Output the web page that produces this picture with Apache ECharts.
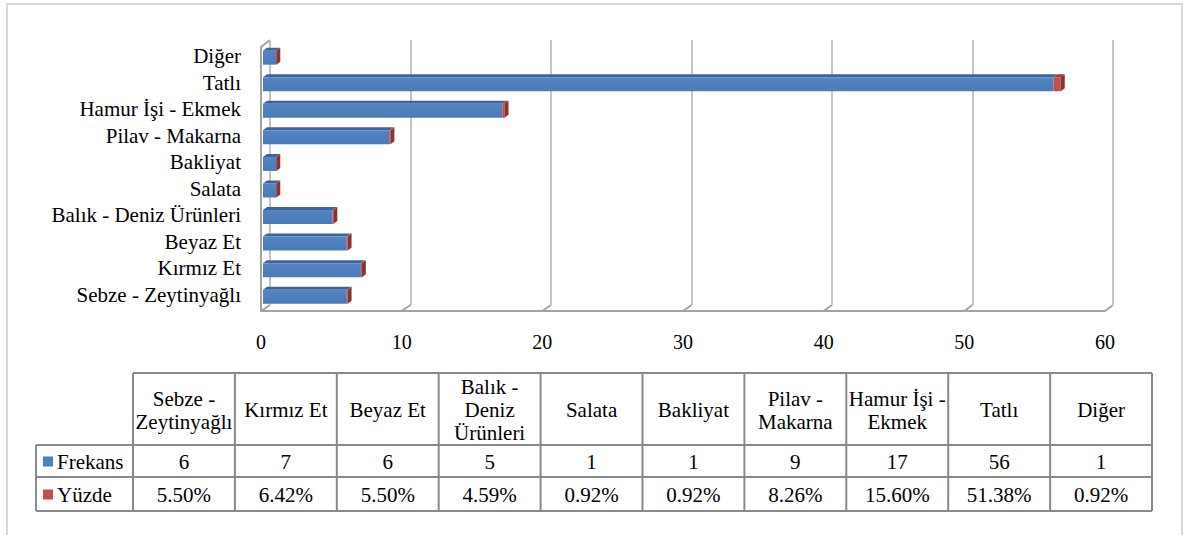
<!DOCTYPE html>
<html>
<head>
<meta charset="utf-8">
<script src="https://cdn.jsdelivr.net/npm/echarts@6.0.0/dist/echarts.min.js"></script>
<style>
  html, body { margin: 0; padding: 0; background: #fff; }
  #main { width: 1187px; height: 535px; }
</style>
</head>
<body>
<div id="main"></div>
<script>
var categories = ['Sebze - Zeytinyağlı', 'Kırmız Et', 'Beyaz Et', 'Balık - Deniz Ürünleri', 'Salata',
    'Bakliyat', 'Pilav - Makarna', 'Hamur İşi - Ekmek', 'Tatlı', 'Diğer'];
var headerLabels = ['Sebze -\nZeytinyağlı', 'Kırmız Et', 'Beyaz Et', 'Balık -\nDeniz\nÜrünleri', 'Salata',
    'Bakliyat', 'Pilav -\nMakarna', 'Hamur İşi -\nEkmek', 'Tatlı', 'Diğer'];
var frekans = [6, 7, 6, 5, 1, 1, 9, 17, 56, 1];
var yuzde = [0.055, 0.0642, 0.055, 0.0459, 0.0092, 0.0092, 0.0826, 0.156, 0.5138, 0.0092];
var seriesNames = ['Frekans', 'Yüzde'];
var seriesColors = ['#4f81bd', '#c0504d'];
var axisMin = 0, axisMax = 60, axisStep = 10;

var FONT = 'Liberation Serif';
var chart = echarts.init(document.getElementById('main'), null, {renderer: 'svg'});

function poly(pts, color) {
    return {type: 'polygon', shape: {points: pts}, style: {fill: color}};
}

function renderBar(params, api) {
    var f = api.value(0), i = api.value(1), p = api.value(2);
    var a = api.coord([0, i]), b = api.coord([f, i]), c = api.coord([f + p, i]);
    var h = 14, dx = 4, dy = -3;
    var y0 = a[1] - 5.3;
    var x0 = a[0] + 1, x1 = b[0], x2 = c[0];
    return {
        type: 'group',
        children: [
            poly([[x0, y0], [x0 + dx, y0 + dy], [x1 + dx, y0 + dy], [x1, y0]], '#3d6497'),
            {type: 'rect', shape: {x: x0, y: y0, width: x1 - x0, height: h},
                style: {fill: new echarts.graphic.LinearGradient(0, 0, 0, 1, [
                    {offset: 0, color: '#5485c2'}, {offset: 1, color: '#4a7bb7'}])}},
            poly([[x1, y0], [x1 + dx, y0 + dy], [x2 + dx, y0 + dy], [x2, y0]], '#9b3c39'),
            {type: 'rect', shape: {x: x1, y: y0, width: x2 - x1, height: h}, style: {fill: seriesColors[1]}},
            poly([[x2, y0], [x2 + dx, y0 + dy], [x2 + dx, y0 + dy + h], [x2, y0 + h]], '#8c3230')
        ]
    };
}

var barData = [];
for (var i = 0; i < categories.length; i++) {
    barData.push([frekans[i], i, yuzde[i]]);
}

// data table below the chart
var tbl = {left: 36, first: 133, colW: 101.9, top: 373, head: 445, row1: 477, row2: 511};
var tableEls = [];
function hline(x1, x2, y) {
    tableEls.push({type: 'line', shape: {x1: x1, y1: y, x2: x2, y2: y}, style: {stroke: '#8a8a8a', lineWidth: 2}});
}
function vline(x, y1, y2) {
    tableEls.push({type: 'line', shape: {x1: x, y1: y1, x2: x, y2: y2}, style: {stroke: '#8a8a8a', lineWidth: 2}});
}
function cellText(txt, x, y, align) {
    tableEls.push({type: 'text', style: {text: txt, x: x, y: y, align: align || 'center', verticalAlign: 'middle',
        fontSize: 21, fontFamily: FONT, fill: '#000', lineHeight: 23}});
}
var tblRight = tbl.first + tbl.colW * categories.length;
hline(tbl.first, tblRight, tbl.top);
hline(tbl.left, tblRight, tbl.head);
hline(tbl.left, tblRight, tbl.row1);
hline(tbl.left, tblRight, tbl.row2);
vline(tbl.left, tbl.head, tbl.row2);
for (var k = 0; k <= categories.length; k++) {
    vline(tbl.first + k * tbl.colW, tbl.top, tbl.row2);
}
for (var j = 0; j < categories.length; j++) {
    var cx = tbl.first + (j + 0.5) * tbl.colW;
    cellText(headerLabels[j], cx, (tbl.top + tbl.head) / 2 + 1);
    cellText(String(frekans[j]), cx, (tbl.head + tbl.row1) / 2 + 1);
    cellText((yuzde[j] * 100).toFixed(2) + '%', cx, (tbl.row1 + tbl.row2) / 2 + 1);
}
var rowMid = [(tbl.head + tbl.row1) / 2, (tbl.row1 + tbl.row2) / 2];
for (var s = 0; s < seriesNames.length; s++) {
    tableEls.push({type: 'rect', shape: {x: 43, y: rowMid[s] - 4.5, width: 10, height: 10}, style: {fill: seriesColors[s]}});
    cellText(seriesNames[s], 57, rowMid[s] + 1, 'left');
}
tableEls.push({type: 'rect', shape: {x: 7, y: 4, width: 1175, height: 600}, style: {fill: 'none', stroke: '#d9d9d9', lineWidth: 2}});

chart.setOption({
    animation: false,
    backgroundColor: '#fff',
    grid: [
        {left: 270, top: 40, width: 843, height: 265},
        {left: 261, top: 47, width: 844, height: 264},
        {left: 262, top: 42.7, width: 848, height: 265.6}
    ],
    xAxis: [
        {gridIndex: 0, type: 'value', min: axisMin, max: axisMax, interval: axisStep,
            axisLine: {show: false}, axisTick: {show: false}, axisLabel: {show: false},
            splitLine: {show: true, lineStyle: {color: '#c4c4c4', width: 2}}},
        {gridIndex: 1, type: 'value', min: axisMin, max: axisMax, interval: axisStep,
            axisLine: {show: true, lineStyle: {color: '#a3a3a3', width: 2}}, axisTick: {show: false},
            axisLabel: {color: '#000', fontSize: 20, fontFamily: FONT, margin: 21},
            splitLine: {show: false}},
        {gridIndex: 2, type: 'value', min: axisMin, max: axisMax, show: false}
    ],
    yAxis: [
        {gridIndex: 0, type: 'value', show: false},
        {gridIndex: 1, type: 'value', axisLine: {show: true, lineStyle: {color: '#a3a3a3', width: 2}},
            axisTick: {show: false}, axisLabel: {show: false}, splitLine: {show: false}},
        {gridIndex: 2, type: 'category', data: categories, axisLine: {show: false}, axisTick: {show: false},
            axisLabel: {color: '#000', fontSize: 21, fontFamily: FONT, margin: 21, interval: 0, lineHeight: 22}}
    ],
    series: [{
        type: 'custom',
        name: 'Frekans',
        xAxisIndex: 2,
        yAxisIndex: 2,
        renderItem: renderBar,
        encode: {x: 0, y: 1},
        data: barData
    }],
    graphic: tableEls
});

// small 3D connectors between back wall and floor
var joints = [];
for (var v = axisMin; v <= axisMax; v += axisStep) {
    var xb = chart.convertToPixel({xAxisIndex: 0}, v);
    var xf = chart.convertToPixel({xAxisIndex: 1}, v);
    joints.push({type: 'line', shape: {x1: xb, y1: 305, x2: xf, y2: 311}, style: {stroke: '#a3a3a3', lineWidth: 2}});
}
var xb0 = chart.convertToPixel({xAxisIndex: 0}, axisMin);
var xf0 = chart.convertToPixel({xAxisIndex: 1}, axisMin);
joints.push({type: 'line', shape: {x1: xb0, y1: 40, x2: xf0, y2: 47}, style: {stroke: '#a3a3a3', lineWidth: 2}});
chart.setOption({graphic: tableEls.concat(joints)});
</script>
</body>
</html>
